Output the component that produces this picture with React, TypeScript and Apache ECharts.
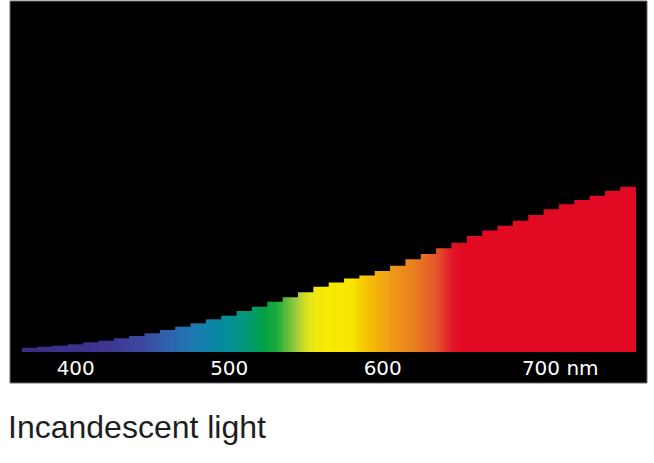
import React, { useEffect, useRef } from "react";
import * as echarts from "echarts";

// Wavelength bins (nm), 10 nm each
const wavelengths = [
  "370", "380", "390", "400", "410", "420", "430", "440", "450", "460",
  "470", "480", "490", "500", "510", "520", "530", "540", "550", "560",
  "570", "580", "590", "600", "610", "620", "630", "640", "650", "660",
  "670", "680", "690", "700", "710", "720", "730", "740", "750", "760",
];

// Relative spectral power of an incandescent source
const intensity = [
  4.3, 5.3, 6.3, 7.7, 9.7, 11.3, 13.7, 16, 18.7, 22,
  25.3, 28.7, 32.7, 36.3, 41, 45.3, 50.3, 54.7, 59.7, 65.3,
  69.5, 73.5, 76.5, 81, 86.3, 92.7, 98, 103.7, 109.3, 116,
  121.5, 126.3, 131.3, 137, 142.7, 147.7, 152, 156.3, 161.3, 165.3,
];

const tickLabels = ["400", "500", "600", "700"];
const unitLabel = "nm";
const titleText = "Incandescent light";

// Spectrum colour stops: wavelength (nm) -> colour
const spectrumNm = [365, 420, 445, 460, 475, 490, 503, 515, 522, 531, 542, 552, 563, 580, 590, 605, 620, 635, 645, 650, 770];
const spectrumColor = [
  "#3a2c86", "#3d3591", "#3a4aa0", "#2f62ae", "#1f78b2", "#0a86a6", "#039290",
  "#009a6a", "#00a145", "#1aaa3a", "#8cc63e", "#e6e619", "#f7ec00", "#f7e500",
  "#f5c000", "#ef9c18", "#e8801f", "#e4562a", "#e2182a", "#e20a22", "#e20a22",
];

function hexToRgb(h: string) {
  const n = parseInt(h.slice(1), 16);
  return [(n >> 16) & 255, (n >> 8) & 255, n & 255];
}

function colorAt(nm: number): string {
  if (nm <= spectrumNm[0]) return spectrumColor[0];
  for (let i = 1; i < spectrumNm.length; i++) {
    if (nm <= spectrumNm[i]) {
      const t = (nm - spectrumNm[i - 1]) / (spectrumNm[i] - spectrumNm[i - 1]);
      const a = hexToRgb(spectrumColor[i - 1]);
      const b = hexToRgb(spectrumColor[i]);
      const c = a.map((v, k) => Math.round(v + (b[k] - v) * t));
      return `rgb(${c[0]},${c[1]},${c[2]})`;
    }
  }
  return spectrumColor[spectrumColor.length - 1];
}

function barGradient(center: number) {
  const stops = [];
  for (let k = 0; k <= 4; k++) {
    const off = k / 4;
    stops.push({ offset: off, color: colorAt(center - 5 + 10 * off) });
  }
  return new echarts.graphic.LinearGradient(0, 0, 1, 0, stops);
}

export default function App() {
  const ref = useRef<HTMLDivElement>(null);

  useEffect(() => {
    if (!ref.current) return;
    const chart = echarts.init(ref.current, null, { renderer: "svg" });
    chart.setOption({
      animation: false,
      backgroundColor: "#ffffff",
      grid: { left: 22, right: 18, top: 152, bottom: 111 },
      graphic: [
        {
          type: "rect",
          z: -10,
          silent: true,
          shape: { x: 10, y: 1, width: 637, height: 382 },
          style: { fill: "#000000", stroke: "#6a6a6a", lineWidth: 1 },
        },
        {
          type: "text",
          left: 8,
          top: 411,
          style: {
            text: titleText,
            font: "300 32px 'Liberation Sans', Arial, sans-serif",
            fill: "#1e1e1e",
          },
        },
      ],
      xAxis: {
        type: "category",
        data: wavelengths,
        boundaryGap: true,
        axisLine: { show: false },
        axisTick: { show: false },
        splitLine: { show: false },
        axisLabel: {
          interval: (_i: number, v: string) => tickLabels.includes(v),
          formatter: (v: string) => (v === "700" ? `{pad| }${v} ${unitLabel}` : v),
          color: "#ffffff",
          fontFamily: "'DejaVu Sans', sans-serif",
          fontSize: 20,
          margin: 6,
          rich: { pad: { width: 48, fontSize: 20 } },
        },
      },
      yAxis: { type: "value", min: 0, max: 200, show: false },
      series: [
        {
          type: "bar",
          barWidth: "104%",
          barCategoryGap: 0,
          data: intensity.map((v, i) => ({
            value: v,
            itemStyle: { color: barGradient(Number(wavelengths[i])) },
          })),
        },
      ],
    });
    return () => chart.dispose();
  }, []);

  return (
    <div
      ref={ref}
      style={{ position: "absolute", left: 0, top: 0, width: 654, height: 463 }}
    />
  );
}
